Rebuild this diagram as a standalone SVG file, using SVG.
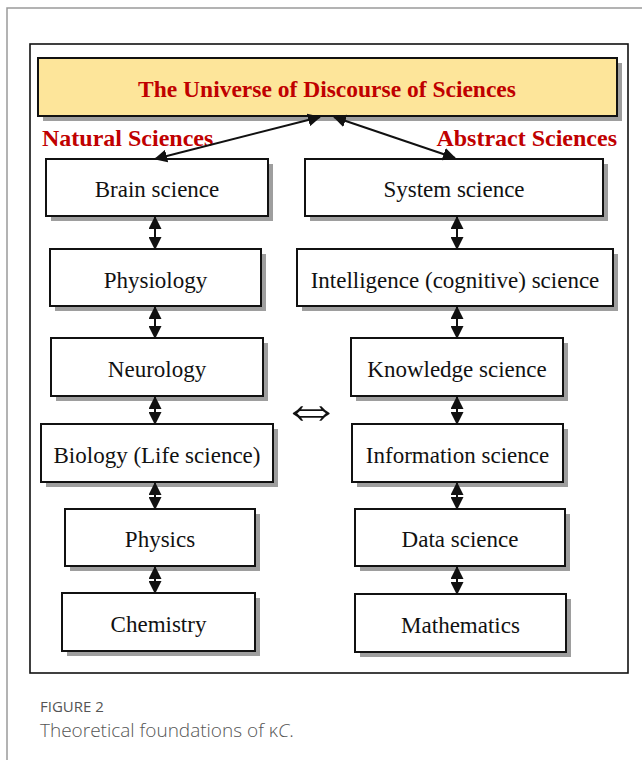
<svg xmlns="http://www.w3.org/2000/svg" width="642" height="760" viewBox="0 0 642 760">
  <style>
    .frame { fill: none; stroke: #9a9a9a; stroke-width: 1.5; }
    .outer { fill: #ffffff; stroke: #111; stroke-width: 1.6; }
    .shadow { fill: #9e9e9e; }
    .box { fill: #ffffff; stroke: #111; stroke-width: 2; }
    .title-box { fill: #fde59a; stroke: #111; stroke-width: 2; }
    .label { font-family: "Liberation Serif", "Times New Roman", serif; font-size: 23px; fill: #111; text-anchor: middle; }
    .red { font-family: "Liberation Serif", "Times New Roman", serif; font-weight: bold; fill: #c00000; }
    .conn { stroke: #111; stroke-width: 2; fill: none; marker-start: url(#head); marker-end: url(#head); }
    .cap1 { font-family: "Open Sans", "Noto Sans", sans-serif; font-size: 15px; fill: #555; }
    .cap2 { font-family: "Open Sans", "Noto Sans", sans-serif; font-size: 19px; fill: #555; font-weight: 300; }
  </style>
  <defs>
    <marker id="head" viewBox="0 0 13 13" refX="12" refY="6.5" markerWidth="13" markerHeight="13" markerUnits="userSpaceOnUse" orient="auto-start-reverse">
      <path d="M0,0 L13,6.5 L0,13 Z" fill="#111"/>
    </marker>
  </defs>

  <!-- page frame -->
  <path class="frame" d="M7,760 V8 H642"/>

  <!-- diagram border -->
  <rect class="outer" x="30" y="44" width="598" height="629"/>

  <!-- title -->
  <g id="universe">
    <rect class="shadow" x="43" y="63" width="579" height="58"/>
    <rect class="title-box" x="38" y="58" width="579" height="58"/>
    <text class="red" x="327" y="97" font-size="23.5" text-anchor="middle">The Universe of Discourse of Sciences</text>
  </g>

  <text id="natural-label" class="red" x="42" y="146" font-size="24">Natural Sciences</text>
  <text id="abstract-label" class="red" x="617" y="146" font-size="24" text-anchor="end">Abstract Sciences</text>

  <!-- left column -->
  <g id="brain">
    <rect class="shadow" x="51" y="164" width="222" height="57"/>
    <rect class="box" x="46" y="159" width="222" height="57"/>
    <text class="label" x="157" y="197">Brain science</text>
  </g>
  <g id="physiology">
    <rect class="shadow" x="55" y="254" width="211" height="57"/>
    <rect class="box" x="50" y="249" width="211" height="57"/>
    <text class="label" x="155.5" y="288">Physiology</text>
  </g>
  <g id="neurology">
    <rect class="shadow" x="56" y="343" width="212" height="58"/>
    <rect class="box" x="51" y="338" width="212" height="58"/>
    <text class="label" x="157" y="377">Neurology</text>
  </g>
  <g id="biology">
    <rect class="shadow" x="46" y="429" width="232" height="58"/>
    <rect class="box" x="41" y="424" width="232" height="58"/>
    <text class="label" x="157" y="463">Biology (Life science)</text>
  </g>
  <g id="physics">
    <rect class="shadow" x="70" y="514" width="190" height="57"/>
    <rect class="box" x="65" y="509" width="190" height="57"/>
    <text class="label" x="160" y="547">Physics</text>
  </g>
  <g id="chemistry">
    <rect class="shadow" x="67" y="598" width="193" height="58"/>
    <rect class="box" x="62" y="593" width="193" height="58"/>
    <text class="label" x="158.5" y="632">Chemistry</text>
  </g>

  <!-- right column -->
  <g id="system">
    <rect class="shadow" x="310" y="164" width="298" height="57"/>
    <rect class="box" x="305" y="159" width="298" height="57"/>
    <text class="label" x="454" y="197">System science</text>
  </g>
  <g id="intelligence">
    <rect class="shadow" x="302" y="254" width="316" height="57"/>
    <rect class="box" x="297" y="249" width="316" height="57"/>
    <text class="label" x="455" y="288">Intelligence (cognitive) science</text>
  </g>
  <g id="knowledge">
    <rect class="shadow" x="356" y="343" width="212" height="58"/>
    <rect class="box" x="351" y="338" width="212" height="58"/>
    <text class="label" x="457" y="377">Knowledge science</text>
  </g>
  <g id="information">
    <rect class="shadow" x="357" y="429" width="211" height="58"/>
    <rect class="box" x="352" y="424" width="211" height="58"/>
    <text class="label" x="457.5" y="463">Information science</text>
  </g>
  <g id="data">
    <rect class="shadow" x="360" y="514" width="210" height="57"/>
    <rect class="box" x="355" y="509" width="210" height="57"/>
    <text class="label" x="460" y="547">Data science</text>
  </g>
  <g id="mathematics">
    <rect class="shadow" x="360" y="599" width="211" height="58"/>
    <rect class="box" x="355" y="594" width="211" height="58"/>
    <text class="label" x="460.5" y="633">Mathematics</text>
  </g>

  <!-- equivalence between the two columns -->
  <text id="equiv" x="311" y="428" font-family="DejaVu Sans, sans-serif" font-weight="200" font-size="62" text-anchor="middle" fill="#111">⇔</text>

  <!-- connectors -->
  <g id="connectors">
    <line class="conn" x1="320" y1="117" x2="155" y2="159"/>
    <line class="conn" x1="334" y1="117" x2="455" y2="158"/>
    <line class="conn" x1="155" y1="217" x2="155" y2="249"/>
    <line class="conn" x1="155" y1="307" x2="155" y2="338"/>
    <line class="conn" x1="155" y1="397" x2="155" y2="424"/>
    <line class="conn" x1="155" y1="483" x2="155" y2="509"/>
    <line class="conn" x1="155" y1="567" x2="155" y2="593"/>
    <line class="conn" x1="457" y1="217" x2="457" y2="249"/>
    <line class="conn" x1="457" y1="307" x2="457" y2="338"/>
    <line class="conn" x1="457" y1="397" x2="457" y2="424"/>
    <line class="conn" x1="457" y1="483" x2="457" y2="509"/>
    <line class="conn" x1="457" y1="567" x2="457" y2="594"/>
  </g>

  <!-- caption -->
  <text class="cap1" x="40" y="712">FIGURE 2</text>
  <text class="cap2" x="40" y="737">Theoretical foundations of κ<tspan font-style="italic">C</tspan>.</text>
</svg>
